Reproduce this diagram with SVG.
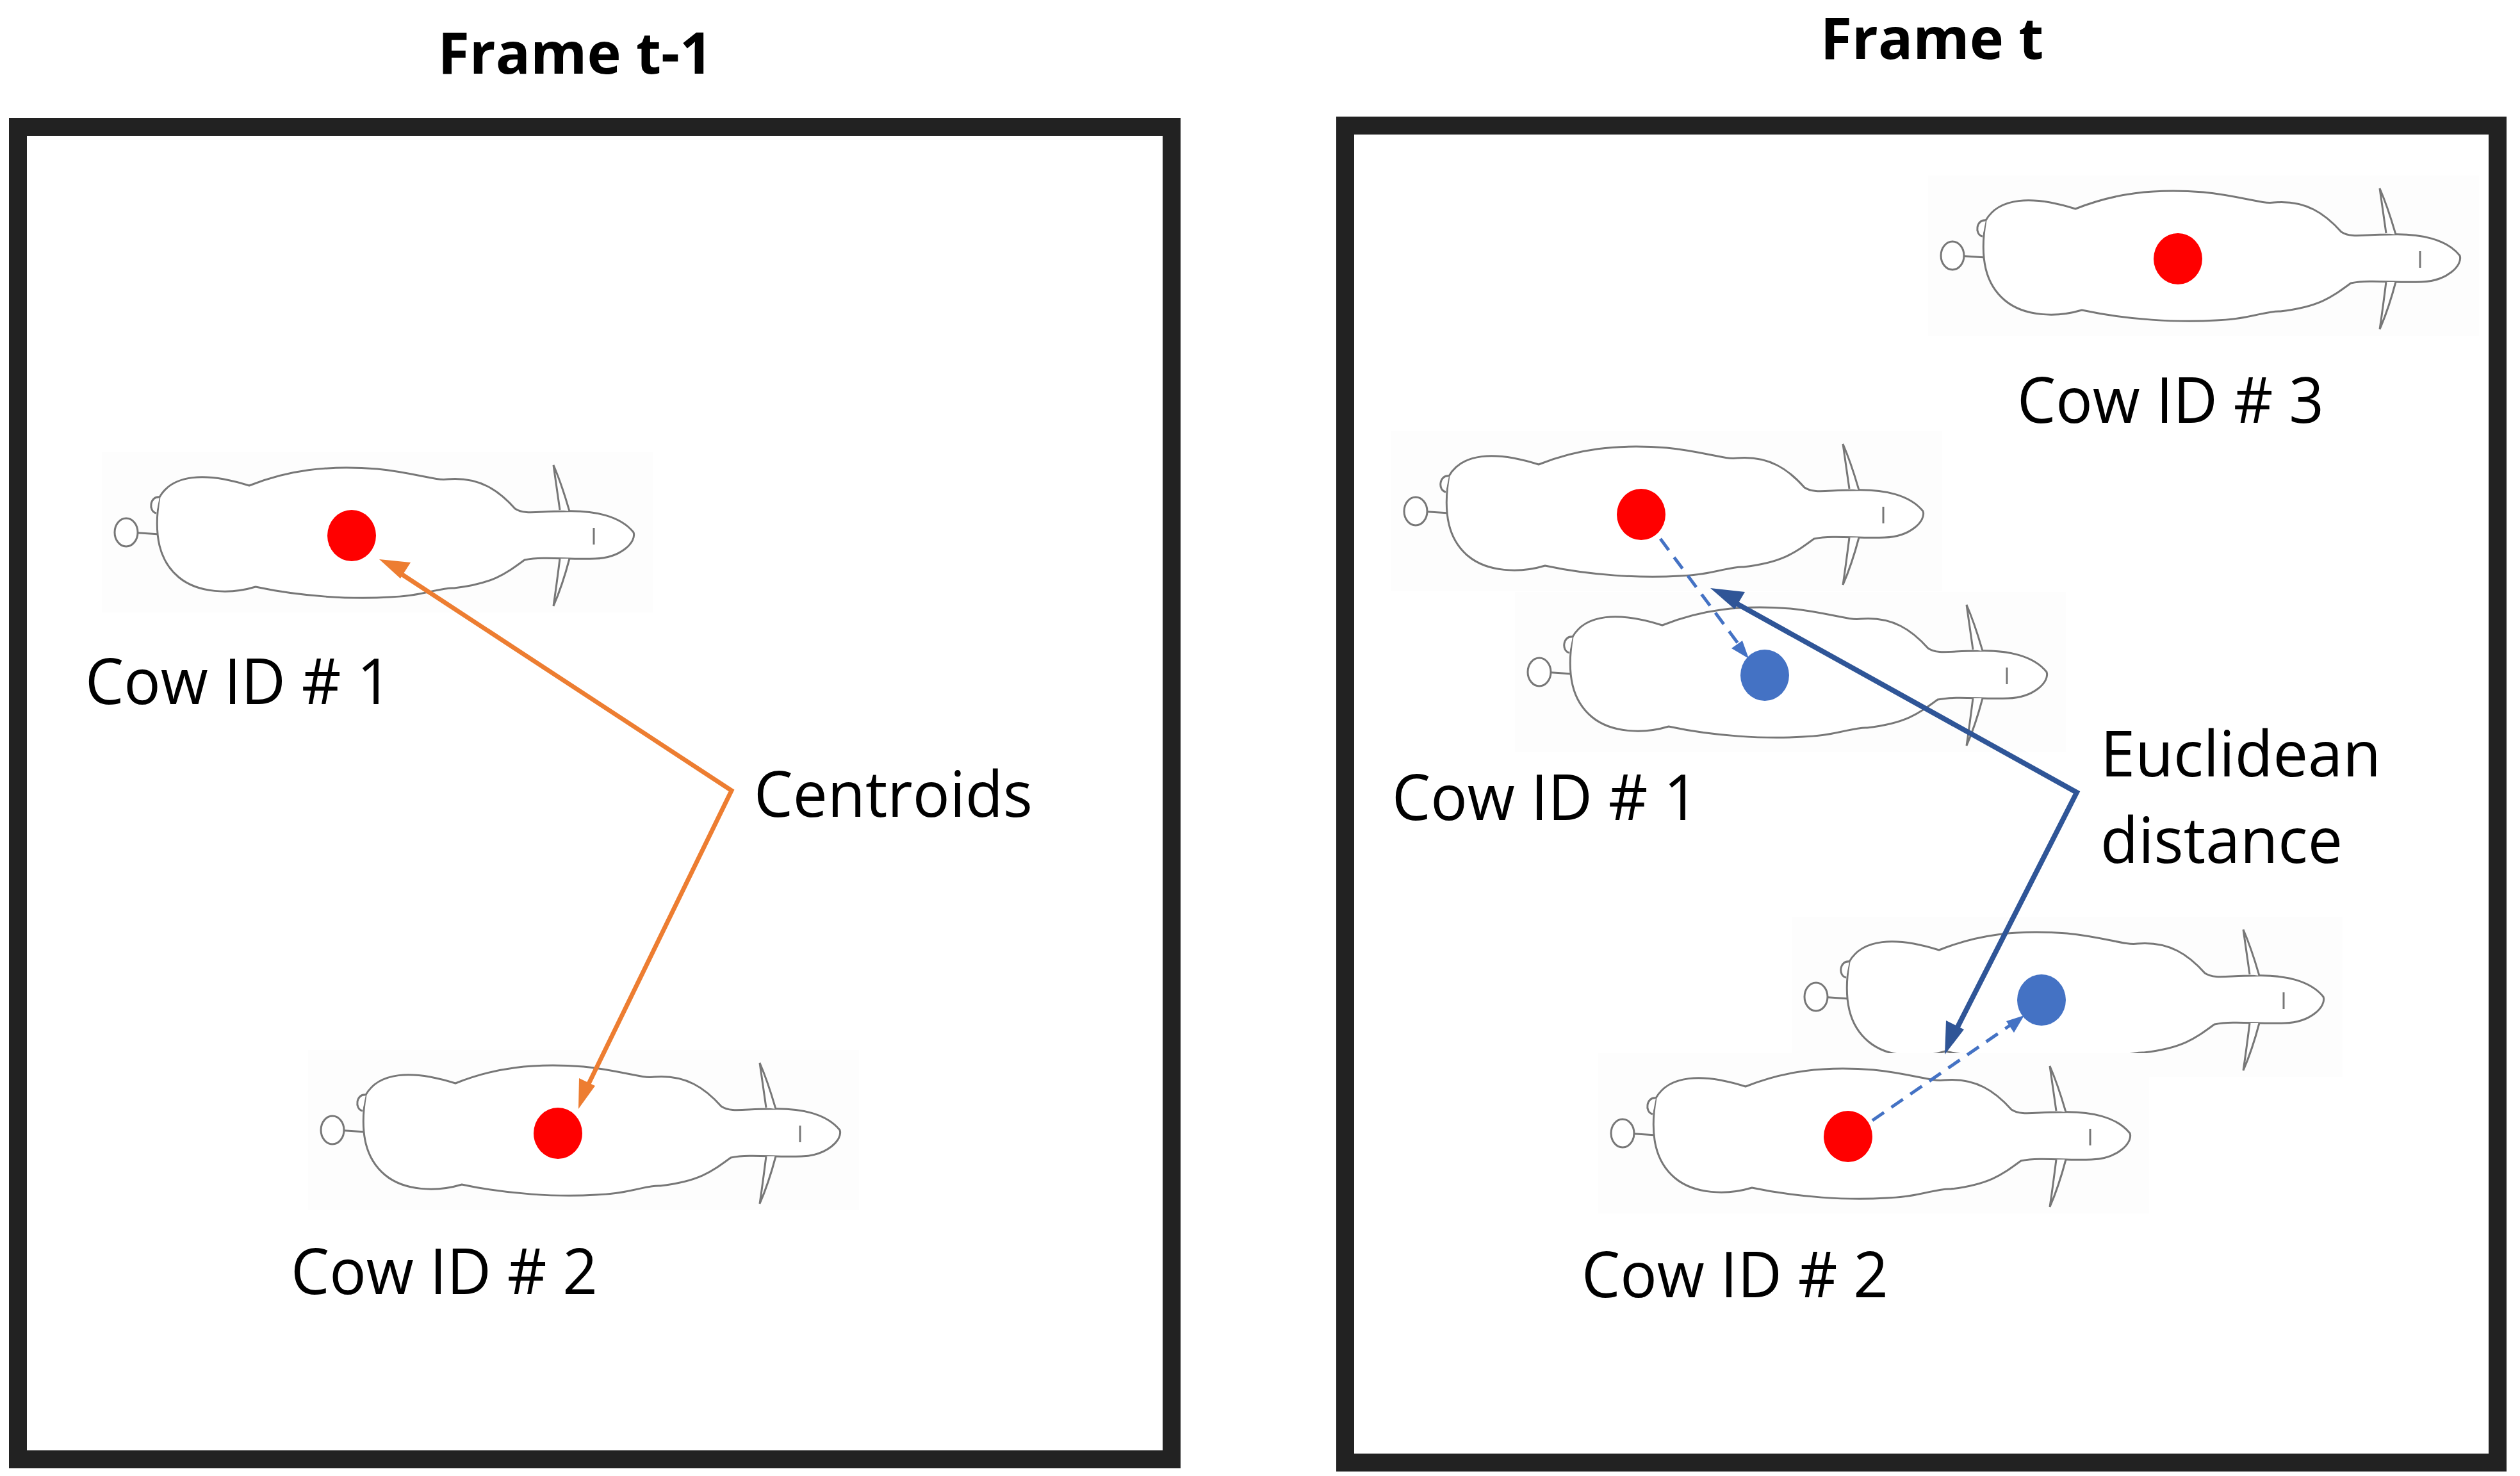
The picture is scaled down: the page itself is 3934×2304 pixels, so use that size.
<svg xmlns="http://www.w3.org/2000/svg" width="3934" height="2304" viewBox="0 0 3934 2304">
<style>
.frame{fill:none;stroke:#222;stroke-width:28}
.title{font-family:"Open Sans","Liberation Sans",sans-serif;font-weight:bold;font-size:90px;fill:#000}
.lbl{font-family:"Open Sans","Liberation Sans",sans-serif;font-size:98px;fill:#000}
.body{fill:#fff;stroke:#777;stroke-width:3}
.red{fill:#ff0000}.blue{fill:#4472c4}
.or{stroke:#ed7d31;stroke-width:7;fill:none}
.bs{stroke:#2f5597;stroke-width:8;fill:none}
.bd{stroke:#4472c4;stroke-width:5;fill:none;stroke-dasharray:22 14}
</style>
<defs>
<g id="cow">
<rect x="-390" y="-130" width="860" height="250" fill="#fdfdfd"/>
<path class="body" d="M-345,-5 L-300,-2"/>
<ellipse class="body" cx="-352" cy="-5" rx="18" ry="22"/>
<path class="body" d="M-300,-60 C-280,-95 -230,-100 -160,-78 C-100,-102 -40,-110 40,-104 C100,-98 130,-85 150,-88 C200,-92 230,-70 255,-42 C270,-32 290,-38 330,-38 C380,-40 420,-30 440,-5 C445,10 420,35 380,36 C340,38 300,32 270,38 C240,60 220,75 160,82 C140,80 110,95 60,96 C0,100 -80,95 -150,80 C-190,92 -240,90 -270,65 C-300,40 -310,0 -300,-60 Z"/>
<path class="body" d="M-300,-60 C-315,-62 -318,-38 -305,-35"/>
<path class="body" d="M325,-40 C322,-60 318,-90 315,-110 C328,-80 335,-55 340,-38 M325,36 C322,60 318,90 315,110 C328,80 335,55 340,36"/>
<path class="body" d="M378,-12 L378,14"/>
</g>
</defs>
<rect width="3934" height="2304" fill="#fff"/>
<text class="title" x="898" y="115" text-anchor="middle">Frame t-1</text>
<text class="title" x="3016" y="92" text-anchor="middle">Frame t</text>
<rect class="frame" x="28" y="198" width="1801" height="2080"/>
<rect class="frame" x="2100" y="196" width="1799" height="2087"/>
<g id="cow-left-1"><use href="#cow" x="549" y="836"/><ellipse class="red" cx="549" cy="836" rx="38" ry="40"/><text class="lbl" x="133" y="1099" textLength="479" lengthAdjust="spacingAndGlyphs">Cow ID # 1</text></g>
<g id="cow-left-2"><use href="#cow" x="871" y="1769"/><ellipse class="red" cx="871" cy="1769" rx="38" ry="40"/><text class="lbl" x="454" y="2020" textLength="479" lengthAdjust="spacingAndGlyphs">Cow ID # 2</text></g>
<g id="cow-right-3"><use href="#cow" x="3400" y="404"/><ellipse class="red" cx="3400" cy="404" rx="38" ry="40"/><text class="lbl" x="3149" y="660" textLength="479" lengthAdjust="spacingAndGlyphs">Cow ID # 3</text></g>
<g id="cow-right-1-prev"><use href="#cow" x="2562" y="803"/><ellipse class="red" cx="2562" cy="803" rx="38" ry="40"/></g>
<g id="cow-right-1"><use href="#cow" x="2755" y="1054"/><ellipse class="blue" cx="2755" cy="1054" rx="38" ry="40"/><text class="lbl" x="2173" y="1280" textLength="479" lengthAdjust="spacingAndGlyphs">Cow ID # 1</text></g>
<g id="cow-right-2"><use href="#cow" x="3187" y="1561"/><ellipse class="blue" cx="3187" cy="1561" rx="38" ry="40"/></g>
<g id="cow-right-2-prev"><use href="#cow" x="2885" y="1774"/><ellipse class="red" cx="2885" cy="1774" rx="38" ry="40"/><text class="lbl" x="2469" y="2025" textLength="479" lengthAdjust="spacingAndGlyphs">Cow ID # 2</text></g>
<g id="label-centroids"><text class="lbl" x="1177" y="1275" textLength="435" lengthAdjust="spacingAndGlyphs">Centroids</text></g>
<g id="label-euclid"><text class="lbl" x="3279" y="1212" textLength="438" lengthAdjust="spacingAndGlyphs">Euclidean</text><text class="lbl" x="3279" y="1347" textLength="378" lengthAdjust="spacingAndGlyphs">distance</text></g>
<g id="connectors">
<path class="or" d="M622,893 L1142,1234 L913,1704"/>
<polygon fill="#ed7d31" points="592,873 641,878 625,903"/>
<polygon fill="#ed7d31" points="903,1731 904,1683 929,1695"/>
<path class="bs" d="M2700,936 L3242,1237 L3050,1615"/>
<polygon fill="#2f5597" points="2670,918 2724,924 2708,951"/>
<polygon fill="#2f5597" points="3036,1646 3038,1593 3066,1607"/>
<path class="bd" d="M2592,841 L2716,1008"/>
<polygon fill="#4472c4" points="2730,1028 2703,1012 2720,1000"/>
<path class="bd" d="M2923,1749 L3140,1599"/>
<polygon fill="#4472c4" points="3160,1585 3144,1612 3132,1594"/>
</g>
</svg>
